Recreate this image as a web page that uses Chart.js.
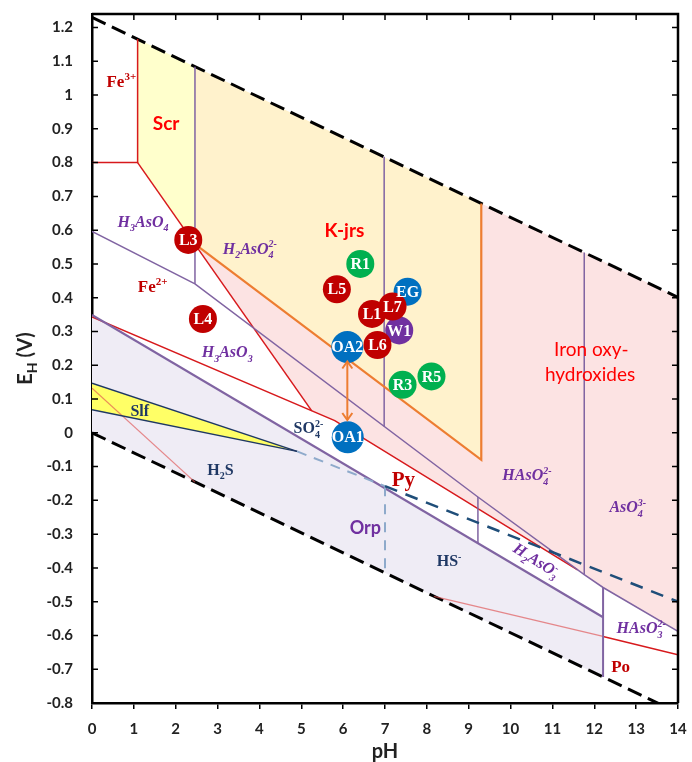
<!DOCTYPE html>
<html>
<head>
<meta charset="utf-8">
<script src="https://cdn.jsdelivr.net/npm/chart.js@4.4.1/dist/chart.umd.min.js"></script>
<style>
  html, body { margin: 0; padding: 0; background: #fff; }
  #wrap { width: 692px; height: 762px; }
</style>
</head>
<body>
<div id="wrap"><canvas id="ehph" width="692" height="762"></canvas></div>
<script>
// axis ticks
const phTicks = [0, 1, 2, 3, 4, 5, 6, 7, 8, 9, 10, 11, 12, 13, 14];
const ehTicks = [-0.8, -0.7, -0.6, -0.5, -0.4, -0.3, -0.2, -0.1, 0, 0.1, 0.2, 0.3, 0.4, 0.5, 0.6, 0.7, 0.8, 0.9, 1.0, 1.1, 1.2];

// samples (pH, Eh in V) - drawn in this order, later ones on top
const sampleNames = ['EG', 'L1', 'W1', 'L7', 'OA2', 'L6', 'L5', 'R1', 'R3', 'R5', 'OA1', 'L3', 'L4'];
const samplePH    = [7.54, 6.69, 7.34, 7.18, 6.10, 6.82, 5.85, 6.41, 7.42, 8.11, 6.11, 2.30, 2.65];
const sampleEh    = [0.418, 0.352, 0.303, 0.374, 0.254, 0.260, 0.425, 0.500, 0.142, 0.167, -0.013, 0.571, 0.337];
const sampleGroup = ['B', 'L', 'W', 'L', 'B', 'L', 'L', 'R', 'R', 'R', 'B', 'L', 'L'];

// water stability limits
const waterUpper = [[0, 1.23], [14, 0.401]];
const waterLower = [[0, 0], [14, -0.829]];

// iron boundaries
const fe3Bound   = [[0, 0.80], [1.09, 0.80], [1.09, 1.166]];
const fe2OxBound = [[1.09, 0.80], [5.25, 0.065]];
const fe2PyBound = [[0, 0.343], [5.8, 0.036], [11.6, -0.406]];
const pyPoBound  = [[12.21, -0.603], [14, -0.657]];
const faintA     = [[0, 0.132], [2.46, -0.146]];
const faintB     = [[8.17, -0.484], [12.21, -0.603]];
const kjrsBound  = [[2.46, 0.559], [9.3, -0.08], [9.3, 0.679]];

// arsenic boundaries
const asUpper = [[0, 0.596], [2.46, 0.441], [9.22, -0.19], [11.76, -0.42], [12.21, -0.458], [14, -0.588]];
const asLower = [[0, 0.349], [12.21, -0.546]];
const asV1 = [[2.46, 1.084], [2.46, 0.441]];
const asV2 = [[6.98, 0.817], [6.98, 0.019]];
const asV3 = [[9.22, -0.19], [9.22, -0.327]];
const asV4 = [[11.76, 0.534], [11.76, -0.42]];
const asV5 = [[12.21, -0.458], [12.21, -0.723]];

// sulfur boundaries
const slfTop    = [[0, 0.147], [4.9, -0.055]];
const slfBottom = [[0, 0.068], [4.9, -0.055]];
const sulfDashA = [[4.9, -0.055], [7.0, -0.158]];
const sulfDashV = [[7.0, -0.158], [7.0, -0.414]];
const sulfDashB = [[7.0, -0.158], [14, -0.50]];

// stability fields
const scrField    = [[1.09, 0.80], [1.09, 1.166], [2.46, 1.084], [2.46, 0.559]];
const kjrsField   = [[2.46, 0.559], [2.46, 1.084], [9.3, 0.679], [9.3, -0.08]];
const ironOxField = [[2.46, 0.559], [9.3, -0.08], [9.3, 0.679], [14, 0.401], [14, -0.588], [12.21, -0.458],
                     [11.76, -0.42], [11.6, -0.406], [5.8, 0.036], [5.25, 0.065]];
const orpField    = [[0, 0.349], [12.21, -0.546], [12.21, -0.723], [0, 0]];
const slfField    = [[0, 0.147], [4.9, -0.055], [0, 0.068]];

// OA2 -> OA1 arrow
const arrowEnds = [[6.1, 0.211], [6.1, 0.038]];

// text labels in the diagram ({} subscript, [] superscript)
const regionLabels = [
  { text: 'Fe[3+]', x: 0.70, y: 1.041, style: 'fe' },
  { text: 'Scr', x: 1.77, y: 0.916, style: 'mineral' },
  { text: 'K-jrs', x: 6.03, y: 0.60, style: 'mineral' },
  { text: 'Iron oxy-', x: 11.93, y: 0.246, style: 'mineralThin' },
  { text: 'hydroxides', x: 11.9, y: 0.172, style: 'mineralThin' },
  { text: 'H{3}AsO{4}', x: 1.22, y: 0.627, style: 'as' },
  { text: 'H{2}AsO{4}[2-]', x: 3.77, y: 0.547, style: 'as' },
  { text: 'Fe[2+]', x: 1.45, y: 0.435, style: 'fe' },
  { text: 'H{3}AsO{3}', x: 3.23, y: 0.24, style: 'as' },
  { text: 'Slf', x: 1.14, y: 0.067, style: 'sul' },
  { text: 'SO{4}[2-]', x: 5.17, y: 0.015, style: 'sul' },
  { text: 'H{2}S', x: 3.07, y: -0.107, style: 'sul' },
  { text: 'Py', x: 7.44, y: -0.136, style: 'py' },
  { text: 'Orp', x: 6.53, y: -0.28, style: 'orp' },
  { text: 'HS[-]', x: 8.53, y: -0.379, style: 'sul' },
  { text: 'HAsO{4}[2-]', x: 10.39, y: -0.124, style: 'as' },
  { text: 'AsO{4}[3-]', x: 12.8, y: -0.218, style: 'as' },
  { text: 'H{2}AsO{3}[-]', x: 10.62, y: -0.376, style: 'as', rot: 32 },
  { text: 'HAsO{3}[2-]', x: 13.12, y: -0.577, style: 'as' },
  { text: 'Po', x: 12.63, y: -0.69, style: 'fe' }
];

const SERIF = '"Liberation Serif", "Times New Roman", serif';
const SANS = 'Lato, "Open Sans", sans-serif';
const labelStyles = {
  fe:          { weight: 'bold', size: 17, family: SERIF, color: '#C00000' },
  mineral:     { weight: 'bold', size: 19, family: SANS, color: '#FF0000' },
  mineralThin: { weight: 'normal', size: 19, family: SANS, color: '#FF0000' },
  as:          { weight: 'italic bold', size: 16, family: SERIF, color: '#7030A0' },
  sul:         { weight: 'bold', size: 16, family: SERIF, color: '#1F3864' },
  py:          { weight: 'bold', size: 21, family: SERIF, color: '#C00000' },
  orp:         { weight: 'bold', size: 18, family: SANS, color: '#7030A0' }
};
const groupColors = { L: '#C00000', R: '#00B050', B: '#0070C0', W: '#7030A0' };

const RED = '#D7191C';
const PURPLE = '#8064A2';
const ORANGE = '#ED7D31';

const pts = arr => arr.map(([x, y]) => ({ x, y }));

function fieldSet(data, color, order) {
  return { data: pts(data), fill: 'shape', backgroundColor: color, borderWidth: 0, pointRadius: 0, order: order };
}
function lineSet(data, color, width, dash) {
  return { data: pts(data), fill: false, borderColor: color, borderWidth: width, borderDash: dash || [],
           borderCapStyle: 'butt', pointRadius: 0, order: 10 };
}

// rich text: {sub} [sup]
function parseRich(s) {
  const parts = [];
  const re = /\{([^}]*)\}|\[([^\]]*)\]|([^{\[]+)/g;
  let m;
  while ((m = re.exec(s))) {
    if (m[1] !== undefined) parts.push({ t: m[1], k: 'sub' });
    else if (m[2] !== undefined) parts.push({ t: m[2], k: 'sup' });
    else parts.push({ t: m[3], k: 'n' });
  }
  return parts;
}

function drawRich(ctx, text, cx, cy, st, rot) {
  const parts = parseRich(text);
  const items = [];
  let x = 0, subStart = 0, subW = 0;
  parts.forEach((p, i) => {
    const fs = p.k === 'n' ? st.size : Math.round(st.size * 0.65);
    const font = st.weight + ' ' + fs + 'px ' + st.family;
    ctx.font = font;
    const w = ctx.measureText(p.t).width;
    const dy = p.k === 'sub' ? st.size * 0.28 : (p.k === 'sup' ? -st.size * 0.4 : 0);
    let px = x;
    if (p.k === 'sup' && i > 0 && parts[i - 1].k === 'sub') {
      px = subStart;
      x = Math.max(subStart + subW, subStart + w);
    } else {
      x += w;
    }
    if (p.k === 'sub') { subStart = px; subW = w; }
    items.push({ t: p.t, font, px, dy });
  });
  ctx.save();
  ctx.translate(cx, cy);
  if (rot) ctx.rotate(rot * Math.PI / 180);
  ctx.fillStyle = st.color;
  ctx.textBaseline = 'alphabetic';
  ctx.textAlign = 'left';
  const x0 = -x / 2, base = st.size * 0.35;
  items.forEach(it => {
    ctx.font = it.font;
    ctx.fillText(it.t, x0 + it.px, base + it.dy);
  });
  ctx.restore();
}

const diagramText = {
  id: 'diagramText',
  afterDatasetsDraw(chart) {
    const { ctx, scales: { x, y } } = chart;
    const n = chart.data.datasets.length;

    // open arrowheads on the OA2-OA1 arrow
    const arr = chart.getDatasetMeta(n - 2).data;
    ctx.save();
    ctx.strokeStyle = ORANGE;
    ctx.lineWidth = 2;
    ctx.lineJoin = 'miter';
    ctx.beginPath();
    ctx.moveTo(arr[0].x - 5, arr[0].y + 7); ctx.lineTo(arr[0].x, arr[0].y); ctx.lineTo(arr[0].x + 5, arr[0].y + 7);
    ctx.moveTo(arr[1].x - 5, arr[1].y - 7); ctx.lineTo(arr[1].x, arr[1].y); ctx.lineTo(arr[1].x + 5, arr[1].y - 7);
    ctx.stroke();
    ctx.restore();

    regionLabels.forEach(l => {
      drawRich(ctx, l.text, x.getPixelForValue(l.x), y.getPixelForValue(l.y), labelStyles[l.style], l.rot);
    });

    // sample names inside the circles
    const meta = chart.getDatasetMeta(n - 1);
    ctx.save();
    ctx.fillStyle = '#fff';
    ctx.font = 'bold 16px ' + SERIF;
    ctx.textAlign = 'center';
    ctx.textBaseline = 'middle';
    meta.data.forEach((pt, i) => {
      ctx.fillText(sampleNames[i], pt.x, pt.y + 1);
    });
    ctx.restore();
  },
  afterDraw(chart) {
    const { ctx, chartArea: a, scales: { x, y } } = chart;
    ctx.save();
    ctx.strokeStyle = '#000';
    // inward ticks on left, top, right
    ctx.lineWidth = 1.5;
    ctx.beginPath();
    ehTicks.forEach(v => {
      const py = y.getPixelForValue(v);
      ctx.moveTo(a.left, py); ctx.lineTo(a.left + 6, py);
      ctx.moveTo(a.right, py); ctx.lineTo(a.right - 6, py);
    });
    phTicks.forEach(v => {
      const px = x.getPixelForValue(v);
      ctx.moveTo(px, a.top); ctx.lineTo(px, a.top + 6);
    });
    ctx.stroke();
    // top and right frame
    ctx.lineWidth = 2.5;
    ctx.beginPath();
    ctx.moveTo(a.left, a.top); ctx.lineTo(a.right, a.top); ctx.lineTo(a.right, a.bottom);
    ctx.stroke();
    // axis titles
    ctx.fillStyle = '#222';
    ctx.textBaseline = 'middle';
    ctx.textAlign = 'center';
    ctx.font = 'bold 20px ' + SANS;
    ctx.fillText('pH', (a.left + a.right) / 2, 752);
    ctx.translate(26, (a.top + a.bottom) / 2);
    ctx.rotate(-Math.PI / 2);
    ctx.textAlign = 'left';
    const wE = ctx.measureText('E').width;
    ctx.font = 'bold 14px ' + SANS;
    const wH = ctx.measureText('H').width;
    ctx.font = 'bold 20px ' + SANS;
    const wV = ctx.measureText(' (V)').width;
    const x0 = -(wE + wH + wV) / 2;
    ctx.fillText('E', x0, 0);
    ctx.font = 'bold 14px ' + SANS;
    ctx.fillText('H', x0 + wE, 6);
    ctx.font = 'bold 20px ' + SANS;
    ctx.fillText(' (V)', x0 + wE + wH, 0);
    ctx.restore();
  }
};

const datasets = [
  fieldSet(scrField, '#FFFFCC', 30),
  fieldSet(kjrsField, '#FFF2CC', 30),
  fieldSet(ironOxField, '#FCE3E3', 30),
  fieldSet(orpField, '#EFECF5', 31),
  fieldSet(slfField, '#FFFF66', 29),

  lineSet(sulfDashB, '#1F4E79', 2.5, [13, 9]),
  lineSet(sulfDashA, '#8EAACB', 2, [10, 8]),
  lineSet(sulfDashV, '#8EAACB', 2, [10, 8]),
  lineSet(slfTop, '#1F3864', 1.5),
  lineSet(slfBottom, '#1F3864', 1.5),
  lineSet(kjrsBound, ORANGE, 2.2),
  lineSet(asUpper, PURPLE, 1.5),
  lineSet(asLower, PURPLE, 2.2),
  lineSet(asV1, PURPLE, 1.5),
  lineSet(asV2, PURPLE, 1.5),
  lineSet(asV3, PURPLE, 1.5),
  lineSet(asV4, PURPLE, 1.5),
  lineSet(asV5, PURPLE, 2),
  lineSet(fe3Bound, RED, 1.5),
  lineSet(fe2OxBound, RED, 1.5),
  lineSet(fe2PyBound, RED, 1.5),
  lineSet(pyPoBound, RED, 1.5),
  lineSet(faintA, 'rgba(222,80,80,0.65)', 1.3),
  lineSet(faintB, 'rgba(222,80,80,0.65)', 1.3),
  lineSet(waterUpper, '#000', 3, [15, 7]),
  lineSet(waterLower, '#000', 3, [15, 7]),

  // arrow shaft (heads added by the plugin)
  { data: pts(arrowEnds), borderColor: ORANGE, borderWidth: 2, pointRadius: 0, fill: false, order: 5 },

  { data: samplePH.map((p, i) => ({ x: p, y: sampleEh[i] })), showLine: false, fill: false, order: 0,
    pointStyle: 'circle', pointBorderWidth: 0,
    pointRadius: sampleNames.map(n => n.startsWith('OA') ? 16 : 14),
    pointBackgroundColor: sampleGroup.map(g => groupColors[g]) }
];

new Chart(document.getElementById('ehph'), {
  type: 'line',
  data: { datasets },
  options: {
    responsive: false,
    animation: false,
    events: [],
    layout: { padding: { top: 13, right: 9, left: 0, bottom: 0 } },
    plugins: { legend: { display: false }, tooltip: { enabled: false } },
    scales: {
      x: {
        type: 'linear', min: 0, max: 14,
        afterBuildTicks: s => { s.ticks = phTicks.map(v => ({ value: v })); },
        afterFit: s => { s.height = 59; s.paddingLeft = 0; s.paddingRight = 0; },
        grid: { display: true, drawOnChartArea: false, drawTicks: true, tickLength: 6, color: '#000', lineWidth: 1.5 },
        border: { display: true, color: '#000', width: 2.5 },
        ticks: { padding: 11, color: '#222', maxRotation: 0, autoSkip: false,
                 font: { family: SANS, weight: 'bold', size: 15 } }
      },
      y: {
        type: 'linear', min: -0.8, max: 1.24,
        afterBuildTicks: s => { s.ticks = ehTicks.map(v => ({ value: v })); },
        afterFit: s => { s.width = 92; s.paddingTop = 0; s.paddingBottom = 0; },
        grid: { display: false, drawTicks: false },
        border: { display: true, color: '#000', width: 2.5 },
        ticks: { padding: 19, color: '#222', autoSkip: false,
                 font: { family: SANS, weight: 'bold', size: 15 },
                 callback: v => String(Math.round(v * 10) / 10) }
      }
    }
  },
  plugins: [diagramText]
});
</script>
</body>
</html>
